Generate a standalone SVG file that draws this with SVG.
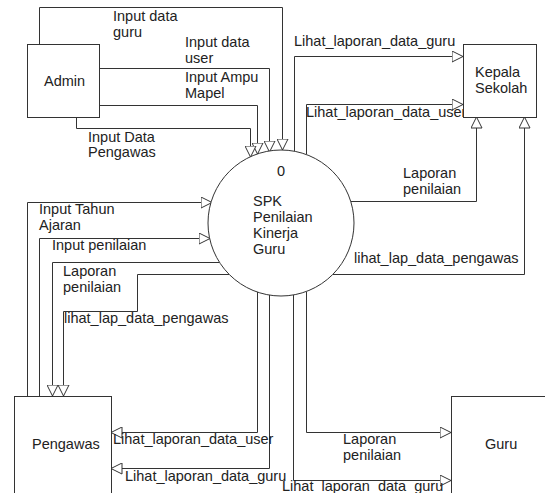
<svg xmlns="http://www.w3.org/2000/svg" width="545" height="493" viewBox="0 0 545 493">
<style>
.box{fill:#fff;stroke:#333;stroke-width:1}
.c{fill:none;stroke:#333;stroke-width:1}
text{font-family:"Liberation Sans",Arial,sans-serif;font-size:14.5px;fill:#222}
</style>
<defs>
<marker id="ah" viewBox="0 0 12 12" refX="11.5" refY="6" markerWidth="12" markerHeight="12" markerUnits="userSpaceOnUse" orient="auto">
<path d="M0.5,0.5 L11.5,6 L0.5,11.5 Z" fill="#fff" stroke="#333" stroke-width="1"/>
</marker>
</defs>
<rect width="545" height="493" fill="#fff"/>
<g id="connectors">
<path class="c" marker-end="url(#ah)" d="M39.5,44 V7.5 H282.5 V150"/>
<path class="c" marker-end="url(#ah)" d="M99,68.5 H269.5 V152"/>
<path class="c" marker-end="url(#ah)" d="M99,105.5 H257.5 V154"/>
<path class="c" marker-end="url(#ah)" d="M76.5,117 V128.5 H250.5 V157"/>
<path class="c" marker-end="url(#ah)" d="M294.5,151 V56.5 H463"/>
<path class="c" marker-end="url(#ah)" d="M306.5,154 V104.5 H463"/>
<path class="c" marker-end="url(#ah)" d="M350,201.5 H476.5 V117"/>
<path class="c" marker-end="url(#ah)" d="M333,274.5 H524.5 V117"/>
<path class="c" marker-end="url(#ah)" d="M27.5,396 V202.5 H212"/>
<path class="c" marker-end="url(#ah)" d="M39.5,396 V238.5 H210"/>
<path class="c" marker-end="url(#ah)" d="M219,262.5 H52.5 V396"/>
<path class="c" marker-end="url(#ah)" d="M229,274.5 H137.5 V311.5 H63.5 V396"/>
<path class="c" marker-end="url(#ah)" d="M257.5,292 V432.5 H111"/>
<path class="c" marker-end="url(#ah)" d="M269.5,295 V468.5 H111"/>
<path class="c" marker-end="url(#ah)" d="M293.5,295 V480.5 H451"/>
<path class="c" marker-end="url(#ah)" d="M306.5,292 V432.5 H451"/>
</g>
<g id="labels">
<text x="113" y="21">Input data</text><text x="113" y="37">guru</text>
<text x="185" y="47">Input data</text><text x="185" y="63">user</text>
<text x="185" y="82">Input Ampu</text><text x="185" y="98">Mapel</text>
<text x="88" y="142">Input Data</text><text x="88" y="157">Pengawas</text>
<text x="294" y="46">Lihat_laporan_data_guru</text>
<text x="306" y="117">Lihat_laporan_data_user</text>
<text x="403" y="178">Laporan</text><text x="403" y="194">penilaian</text>
<text x="354" y="263">lihat_lap_data_pengawas</text>
<text x="39" y="214">Input Tahun</text><text x="39" y="230">Ajaran</text>
<text x="52" y="250">Input penilaian</text>
<text x="63" y="276">Laporan</text><text x="63" y="292">penilaian</text>
<text x="64" y="323">lihat_lap_data_pengawas</text>
<text x="113" y="444">Lihat_laporan_data_user</text>
<text x="125" y="481">Lihat_laporan_data_guru</text>
<text x="343" y="444">Laporan</text><text x="343" y="460">penilaian</text>
<text x="282" y="491">Lihat_laporan_data_guru</text>
</g>
<g id="admin">
<rect class="box" x="27.5" y="44.5" width="72" height="73"/>
<text x="44" y="86">Admin</text>
</g>
<g id="kepala-sekolah">
<rect class="box" x="463.5" y="44.5" width="73" height="73"/>
<text x="475" y="77">Kepala</text>
<text x="475" y="93">Sekolah</text>
</g>
<g id="spk">
<circle class="box" cx="281" cy="223" r="73"/>
<text x="281" y="176" text-anchor="middle">0</text>
<text x="253" y="206">SPK</text>
<text x="253" y="222">Penilaian</text>
<text x="253" y="238">Kinerja</text>
<text x="253" y="254">Guru</text>
</g>
<g id="pengawas">
<rect class="box" x="14.5" y="396.5" width="97" height="100"/>
<text x="32" y="449">Pengawas</text>
</g>
<g id="guru">
<rect class="box" x="451.5" y="396.5" width="100" height="100"/>
<text x="485" y="449">Guru</text>
</g>
</svg>
